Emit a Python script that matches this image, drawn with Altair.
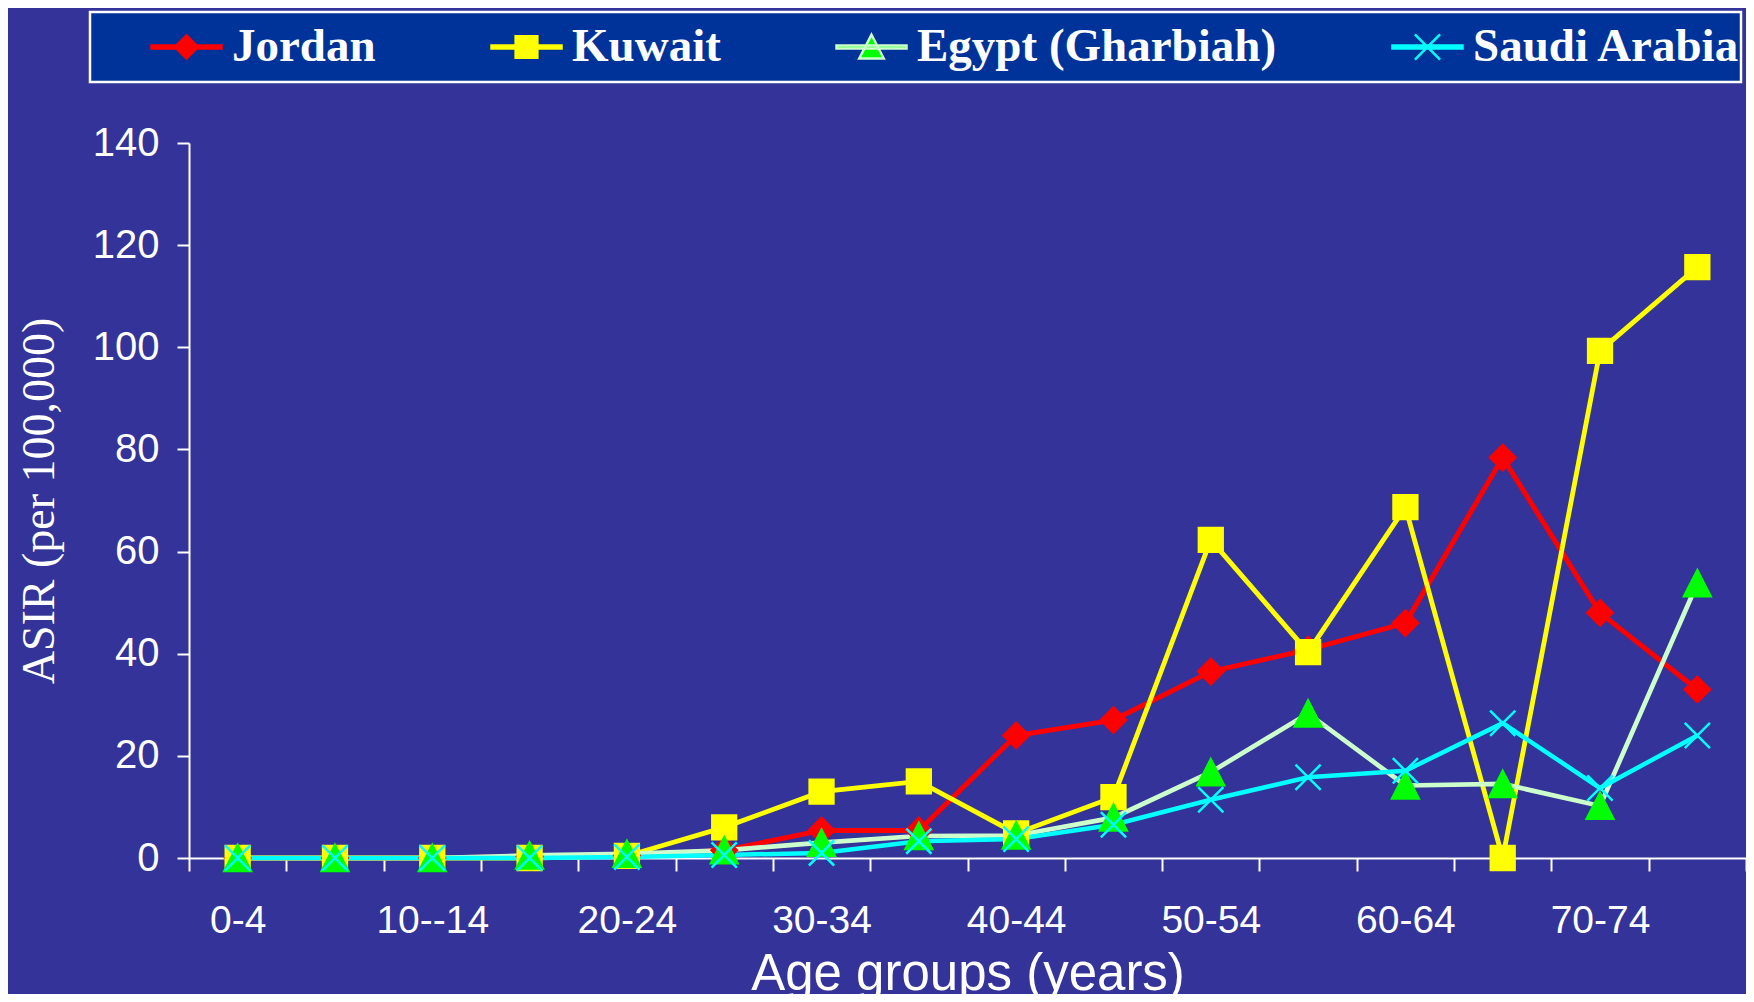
import json
import altair as alt
import pandas as pd

ages = ["0-4", "5-9", "10--14", "15-19", "20-24", "25-29", "30-34", "35-39",
        "40-44", "45-49", "50-54", "55-59", "60-64", "65-69", "70-74", "75+"]
shown_labels = ["0-4", "10--14", "20-24", "30-34", "40-44", "50-54", "60-64", "70-74"]
series_names = ["Jordan", "Kuwait", "Egypt (Gharbiah)", "Saudi Arabia"]

jordan = [0, 0, 0, 0.3, 0.5, 1.5, 5.4, 5.4, 24.0, 27.0, 36.5, 40.8, 46.0, 78.4, 48.0, 33.0]
kuwait = [0, 0, 0, 0, 0.4, 6.0, 13.0, 15.0, 4.8, 11.9, 62.3, 40.3, 68.7, 0, 99.3, 115.7]
egypt = [0, 0, 0, 0.5, 0.8, 1.5, 3.0, 4.3, 4.4, 7.9, 16.8, 28.3, 14.2, 14.5, 10.2, 53.8]
saudi = [0, 0, 0, 0, 0.2, 0.6, 1.0, 3.3, 3.7, 6.5, 11.4, 15.8, 17.1, 26.4, 13.7, 24.0]

line_colors = ["#ff0000", "#ffff00", "#ccffcc", "#00ffff"]
marker_fill = ["#ff0000", "#ffff00", "#00ff00", "#00ffff"]
marker_stroke = ["#ff0000", "#ffff00", "#00ff00", "#00ffff"]
line_widths = [5, 4.5, 5.5, 6]
marker_shapes = [
    "M0,-0.36L0.36,0L0,0.36L-0.36,0Z",
    "M-0.34,-0.34L0.34,-0.34L0.34,0.34L-0.34,0.34Z",
    "M0,-0.37L0.38,0.37L-0.38,0.37Z",
    "M-0.36,-0.36L0.36,0.36M-0.36,0.36L0.36,-0.36",
]
# legend symbols: short line segment with the marker on top
segment = "M-1,-0.04L1,-0.04L1,0.04L-1,0.04Z"
legend_shapes = [
    segment + "M0,-0.33L0.33,0L0,0.33L-0.33,0Z",
    segment + "M-0.31,-0.31L0.31,-0.31L0.31,0.31L-0.31,0.31Z",
    segment + "M0,-0.35L0.35,0.33L-0.35,0.33Z",
    segment + "M-0.36,-0.36L0.36,0.36M-0.36,0.36L0.36,-0.36",
]

rows = []
for name, vals in zip(series_names, [jordan, kuwait, egypt, saudi]):
    for a, v in zip(ages, vals):
        rows.append({"age": a, "series": name, "lkey": "l:" + name, "value": v})
df = pd.DataFrame(rows)
legend_keys = ["l:" + n for n in series_names]

BG = "#333399"
WHITE = "#ffffff"
SANS = "Liberation Sans"
SERIF = "Liberation Serif"

leg = alt.Legend(
    orient="none", legendX=-99, legendY=-131, direction="horizontal",
    columns=4, title=None, padding=0, clipHeight=70, symbolSize=4900,
    symbolOffset=60, symbolStrokeWidth=2.5, labelOffset=9, columnPadding=54,
    labelFont=SERIF, labelFontWeight="bold", labelFontSize=47, labelLimit=600,
    labelColor=WHITE, labelExpr="slice(datum.label, 2)",
    fillColor="#003399", strokeColor=WHITE,
)

x_enc = alt.X(
    "age:N", sort=ages,
    scale=alt.Scale(type="band", domain=ages, paddingInner=0, paddingOuter=0),
    axis=alt.Axis(
        title="Age groups (years)", titleFont=SANS, titleFontSize=51,
        titleFontWeight="normal", titleColor=WHITE, titlePadding=9,
        labelFont=SANS, labelFontSize=39, labelColor=WHITE, labelPadding=30,
        labelAngle=0, labelExpr="indexof(" + json.dumps(shown_labels) + ", datum.value) >= 0 ? datum.label : ''",
        tickBand="extent", tickSize=13, tickColor=WHITE, tickWidth=2,
        domainColor=WHITE, domainWidth=2, grid=False,
    ),
)
y_enc = alt.Y(
    "value:Q", scale=alt.Scale(domain=[0, 140]),
    axis=alt.Axis(
        values=list(range(0, 141, 20)), title="ASIR (per 100,000)",
        titleFont=SERIF, titleFontSize=46, titleFontWeight="normal",
        titleColor=WHITE, titlePadding=29,
        labelFont=SANS, labelFontSize=40, labelColor=WHITE, labelPadding=18,
        tickSize=12, tickColor=WHITE, tickWidth=2,
        domainColor=WHITE, domainWidth=2, grid=False,
    ),
)

lines = alt.Chart(df).mark_line().encode(
    x=x_enc, y=y_enc,
    color=alt.Color("series:N", scale=alt.Scale(domain=series_names, range=line_colors), legend=None),
    strokeWidth=alt.StrokeWidth("series:N", scale=alt.Scale(domain=series_names, range=line_widths), legend=None),
)

points = alt.Chart(df).mark_point(size=4900, strokeWidth=2.5, opacity=1).encode(
    x=x_enc, y=y_enc,
    fill=alt.Fill("series:N", scale=alt.Scale(domain=series_names, range=marker_fill), legend=None),
    stroke=alt.Stroke("series:N", scale=alt.Scale(domain=series_names, range=marker_stroke), legend=None),
    shape=alt.Shape("series:N", scale=alt.Scale(domain=series_names, range=marker_shapes), legend=None),
)

# legend-only layer: no marks drawn (all rows filtered out), legend from explicit domains
legend_layer = alt.Chart(df).transform_filter("false").mark_point(size=4900, strokeWidth=2.5, opacity=1).encode(
    fill=alt.Fill("lkey:N", scale=alt.Scale(domain=legend_keys, range=marker_fill), legend=leg),
    stroke=alt.Stroke("lkey:N", scale=alt.Scale(domain=legend_keys, range=line_colors), legend=leg),
    shape=alt.Shape("lkey:N", scale=alt.Scale(domain=legend_keys, range=legend_shapes), legend=leg),
)

chart = alt.layer(lines, points, legend_layer).resolve_scale(
    fill="independent", stroke="independent", shape="independent"
).properties(
    width=1557, height=715,
    autosize=alt.AutoSizeParams(type="none"),
    padding={"left": 181, "top": 135, "right": 0, "bottom": 136},
    background=BG,
).configure_view(strokeWidth=0).configure_legend(strokeWidth=2.5)

chart.save("out.html", embed_options={"renderer": "svg", "actions": False})
